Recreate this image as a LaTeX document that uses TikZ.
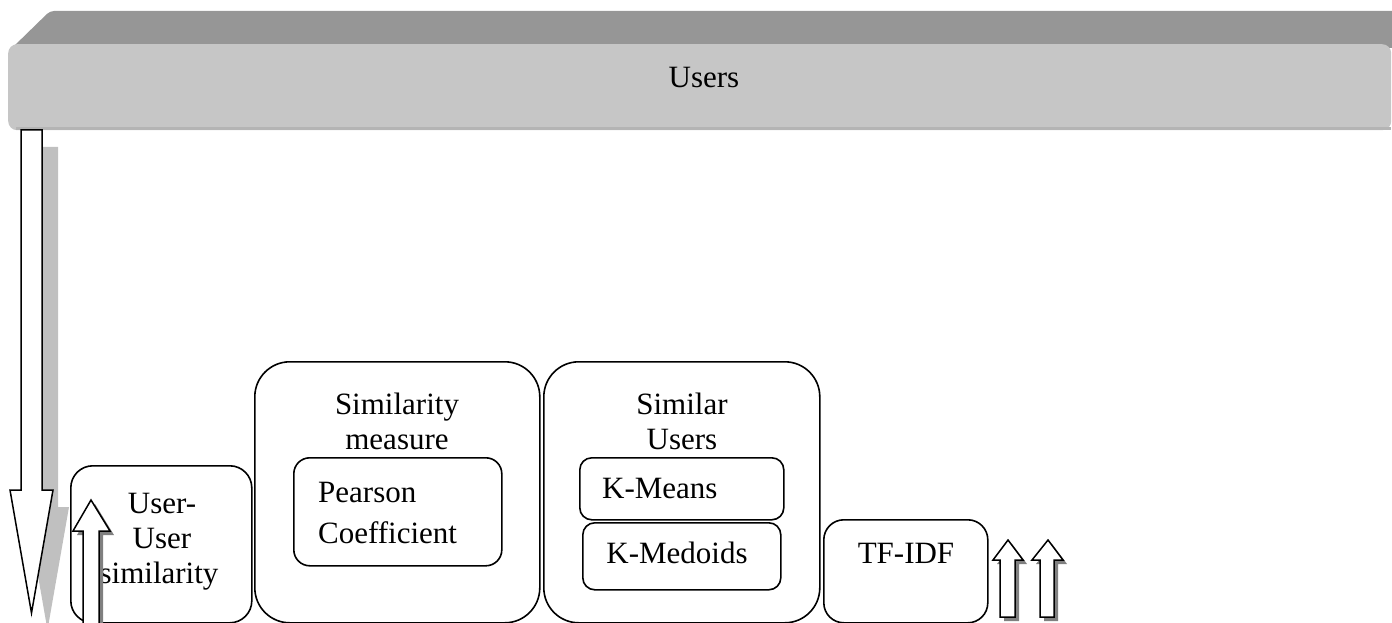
\documentclass[tikz,border=0pt]{standalone}
\usepackage{fontspec}
\setmainfont{Liberation Serif}
\definecolor{barTop}{HTML}{969696}
\definecolor{barFront}{HTML}{C6C6C6}
\definecolor{barEdge}{HTML}{B4B4B4}
\definecolor{shadowLight}{HTML}{C0C0C0}
\definecolor{shadowDark}{HTML}{808080}
\begin{document}
\begin{tikzpicture}[x=1pt,y=-1pt,
  txt/.style={inner sep=0pt, font=\fontsize{31}{35}\selectfont},
  rbox/.style={draw=black, line width=1.6pt, inner sep=0pt, anchor=north west},
  blockarrow/.style={draw=black, fill=white, line width=1.5pt, line join=miter},
  bigshadow/.style={fill=shadowLight, draw=none},
  smallshadow/.style={fill=shadowDark, draw=none}]
\path[use as bounding box] (0,0) rectangle (1392,623);
\clip (0,0) rectangle (1392,623);
% 3D bar "Users"
\fill[barTop, rounded corners=4pt] (50,11) -- (1400,11) -- (1400,48) -- (12,48) -- cycle;
\node[fill=barFront, rounded corners=9pt, inner sep=0pt, anchor=north west,
      minimum width=1383pt, minimum height=86pt] (users) at (8,44) {};
\fill[barEdge] (16,127) -- (1391,127) -- (1391,130) -- (16,130) -- cycle;
\node[txt, anchor=base] (userslbl) at (704,88) {Users};
% big down arrow with shadow
\fill[bigshadow, shift={(16,17)}] (21,130) -- (42,130) -- (42,490) -- (53,490) -- (31.5,613) -- (10,490) -- (21,490) -- cycle;
\draw[blockarrow] (21,130) -- (42,130) -- (42,490) -- (53,490) -- (31.5,613) -- (10,490) -- (21,490) -- cycle;
% boxes
\node[rbox, rounded corners=22pt, minimum width=181pt, minimum height=157pt] (uu) at (70,465) {};
\node[txt, anchor=base] (uu1) at (162,513) {User-};
\node[txt, anchor=base] (uu2) at (162,548) {User};
\node[txt, anchor=base] (uu3) at (159,583) {similarity};
\node[rbox, rounded corners=35pt, minimum width=285pt, minimum height=261pt] (sm) at (254,361) {};
\node[txt, anchor=base, align=center] (smlbl) at (397,449) {Similarity\\measure};
\node[rbox, rounded corners=16pt, minimum width=208pt, minimum height=108pt] (pc) at (293,457) {};
\node[txt, anchor=base west, align=left, font=\fontsize{31}{41}\selectfont] (pclbl) at (318,543) {Pearson\\Coefficient};
\node[rbox, rounded corners=35pt, minimum width=276pt, minimum height=261pt] (su) at (543,361) {};
\node[txt, anchor=base, align=center] (sulbl) at (682,449) {Similar\\Users};
\node[rbox, rounded corners=12pt, minimum width=204pt, minimum height=62pt] (km) at (579,457) {};
\node[txt, anchor=base west] (kmlbl) at (602,498) {K-Means};
\node[rbox, rounded corners=12pt, minimum width=198pt, minimum height=67pt] (kd) at (582,522) {};
\node[txt, anchor=base] (kdlbl) at (677,563) {K-Medoids};
\node[rbox, rounded corners=20pt, minimum width=164pt, minimum height=103pt] (tf) at (823,519) {};
\node[txt, anchor=base] (tflbl) at (906,563) {TF-IDF};
% small up arrows with shadows
\fill[smallshadow, shift={(4,4)}] (83,630) -- (83,531) -- (73,531) -- (91,500) -- (110,531) -- (99,531) -- (99,630) -- cycle;
\draw[blockarrow] (83,630) -- (83,531) -- (73,531) -- (91,500) -- (110,531) -- (99,531) -- (99,630) -- cycle;
\fill[smallshadow, shift={(4,4)}] (1000,617) -- (1000,560) -- (993,560) -- (1008,540) -- (1023,560) -- (1015,560) -- (1015,617) -- cycle;
\draw[blockarrow] (1000,617) -- (1000,560) -- (993,560) -- (1008,540) -- (1023,560) -- (1015,560) -- (1015,617) -- cycle;
\fill[smallshadow, shift={(4,4)}] (1040,617) -- (1040,560) -- (1032,560) -- (1048,540) -- (1063,560) -- (1054,560) -- (1054,617) -- cycle;
\draw[blockarrow] (1040,617) -- (1040,560) -- (1032,560) -- (1048,540) -- (1063,560) -- (1054,560) -- (1054,617) -- cycle;
\end{tikzpicture}
\end{document}
